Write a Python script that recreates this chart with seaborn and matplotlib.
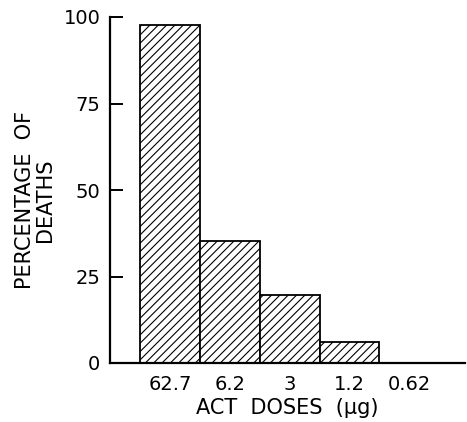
import matplotlib
matplotlib.use("Agg")
import matplotlib.pyplot as plt
import seaborn as sns
import pandas as pd

# data
doses = ["62.7", "6.2", "3", "1.2", "0.62"]
deaths = [97.8, 35.3, 19.6, 6.0, 0.0]
yticks = [0, 25, 50, 75, 100]

sns.set_style("ticks")
plt.rcParams["font.family"] = ["DejaVu Sans"]
plt.rcParams["hatch.linewidth"] = 0.8
plt.rcParams["text.color"] = "black"
plt.rcParams["axes.labelcolor"] = "black"
plt.rcParams["xtick.color"] = "black"
plt.rcParams["ytick.color"] = "black"

df = pd.DataFrame({"dose": doses, "pct": deaths})

fig = plt.figure(figsize=(4.67, 4.22), dpi=100)
ax = fig.add_axes([110 / 467, 59 / 422, 355 / 467, 346 / 422])

sns.barplot(data=df, x="dose", y="pct", order=doses, width=1.0,
            color="white", edgecolor="black", linewidth=1.3, ax=ax)
for p in ax.patches:
    p.set_hatch("////")
    p.set_facecolor("white")

ax.set_xlim(-1.0, 4.93)
ax.set_ylim(0, 100)
ax.set_yticks(yticks)
ax.set_yticklabels([str(t) for t in yticks])

sns.despine(ax=ax)
for s in ["left", "bottom"]:
    ax.spines[s].set_linewidth(1.6)
    ax.spines[s].set_color("black")

ax.tick_params(axis="y", direction="in", length=9, width=1.4, pad=7, labelsize=14)
ax.tick_params(axis="x", length=0, pad=9, labelsize=14)

ax.set_xlabel("ACT  DOSES  (µg)", fontsize=15)
ax.xaxis.set_label_coords(0.5, -0.1)
ax.set_ylabel("PERCENTAGE  OF\nDEATHS", fontsize=15, linespacing=1.0)
ax.yaxis.set_label_coords(-0.155, 0.47)

fig.savefig("out.png", dpi=100)
